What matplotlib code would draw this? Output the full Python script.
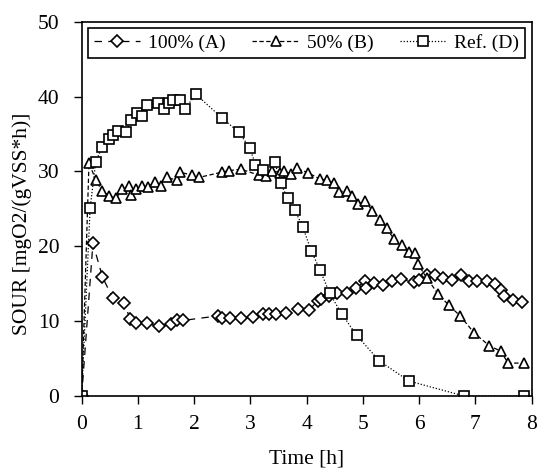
import numpy as np
import matplotlib
matplotlib.use("Agg")
import matplotlib.pyplot as plt

plt.rcParams['font.family'] = ['Liberation Serif', 'DejaVu Serif']

# --- data ---
t_a = [0, 0.2, 0.37, 0.55, 0.76, 0.86, 0.96, 1.17, 1.37, 1.58, 1.69, 1.81,
       2.42, 2.5, 2.64, 2.83, 3.04, 3.23, 3.33, 3.45, 3.64, 3.84, 4.04, 4.20,
       4.25, 4.40, 4.54, 4.72, 4.88, 5.04, 5.05, 5.20, 5.36, 5.51, 5.68, 5.91,
       6.0, 6.14, 6.28, 6.43, 6.58, 6.74, 6.89, 7.03, 7.2, 7.35, 7.45, 7.51,
       7.67, 7.83]
sour_a = [0, 20.4, 15.9, 13.1, 12.4, 10.3, 9.7, 9.7, 9.3, 9.6, 10.2, 10.1,
          10.7, 10.4, 10.4, 10.4, 10.5, 10.9, 11.0, 10.9, 11.1, 11.6, 11.5, 12.7,
          13.0, 13.4, 13.7, 13.8, 14.4, 15.4, 14.4, 15.1, 14.8, 15.4, 15.6, 15.2,
          15.5, 16.1, 16.2, 15.8, 15.5, 16.1, 15.4, 15.3, 15.4, 15.0, 14.2, 13.3,
          12.8, 12.6]

t_b = [0, 0.13, 0.25, 0.36, 0.49, 0.61, 0.72, 0.85, 0.87, 0.96, 1.07, 1.18,
       1.30, 1.41, 1.52, 1.70, 1.74, 1.97, 2.09, 2.49, 2.62, 2.83, 3.15, 3.27,
       3.38, 3.53, 3.59, 3.72, 3.82, 4.03, 4.23, 4.37, 4.48, 4.58, 4.71, 4.81,
       4.92, 5.04, 5.17, 5.31, 5.42, 5.55, 5.69, 5.82, 5.92, 5.98, 6.14, 6.34,
       6.53, 6.73, 6.98, 7.25, 7.45, 7.58, 7.87]
sour_b = [0, 31.1, 28.9, 27.4, 26.7, 26.4, 27.6, 28.1, 26.8, 27.6, 28.0, 27.9,
          28.6, 28.1, 29.2, 28.8, 29.9, 29.5, 29.2, 29.9, 30.1, 30.3, 29.5, 29.4,
          30.1, 29.8, 30.1, 29.6, 30.4, 29.8, 29.0, 28.8, 28.4, 27.3, 27.4, 26.7,
          25.6, 26.1, 24.7, 23.5, 22.4, 21.0, 20.2, 19.2, 19.1, 17.6, 15.7, 13.6,
          12.1, 10.7, 8.4, 6.7, 6.0, 4.4, 4.4]

t_d = [0, 0.15, 0.25, 0.36, 0.48, 0.56, 0.65, 0.79, 0.87, 0.98, 1.07, 1.17,
       1.36, 1.46, 1.56, 1.63, 1.74, 1.84, 2.03, 2.50, 2.80, 2.99, 3.09, 3.22,
       3.43, 3.54, 3.66, 3.79, 3.93, 4.08, 4.24, 4.41, 4.62, 4.89, 5.29, 5.82,
       6.8, 7.87]
sour_d = [0, 25.1, 31.3, 33.2, 34.3, 34.9, 35.4, 35.2, 36.8, 37.8, 37.4, 38.9,
          39.2, 38.4, 39.2, 39.5, 39.5, 38.4, 40.3, 37.1, 35.2, 33.1, 30.9, 30.2,
          31.3, 28.4, 26.4, 24.8, 22.6, 19.4, 16.8, 13.7, 11.0, 8.1, 4.7, 2.0,
          0.0, 0.0]

fig = plt.figure(figsize=(5.5, 4.76), dpi=100)
ax = fig.add_axes([0.1485, 0.168, 0.8182, 0.7865])

mk = dict(markerfacecolor='white', markeredgecolor='black',
          markeredgewidth=1.2, color='black', linewidth=0.9)

ax.plot(t_a, sour_a, linestyle=(0, (6, 5)), marker='D', markersize=6.5,
        label='100% (A)', **mk)
ax.plot(t_b, sour_b, linestyle=(0, (3.5, 2)), marker='^', markersize=7.5,
        label='50% (B)', **mk)
ax.plot(t_d, sour_d, linestyle=(0, (1, 1.5)), marker='s', markersize=7.5,
        label='Ref. (D)', **mk)

ax.set_xlim(0, 8)
ax.set_ylim(0, 50)
ax.set_xticks(np.arange(0, 9, 1))
ax.set_yticks(np.arange(0, 51, 10))
ax.tick_params(direction='out', length=6, width=1, labelsize=15.5)
ax.tick_params(axis='x', pad=8)
ax.tick_params(axis='y', pad=10)
for s in ax.spines.values():
    s.set_linewidth(1.2)

ax.set_xlabel('Time [h]', fontsize=15.5, labelpad=11)
ax.set_ylabel('SOUR [mgO2/(gVSS*h)]', fontsize=15.5)
ax.yaxis.set_label_coords(-0.11, 0.46)

leg = ax.legend(loc='upper left', ncol=3, fontsize=14, frameon=True,
                fancybox=False, edgecolor='black', framealpha=1,
                handlelength=2.4, handletextpad=0.4, columnspacing=1.0,
                borderpad=0.3, borderaxespad=0, mode='expand',
                bbox_to_anchor=(0.014, 0.983, 0.971, 0.0))
leg.get_frame().set_linewidth(1.2)

fig.savefig('out.png', dpi=100)
